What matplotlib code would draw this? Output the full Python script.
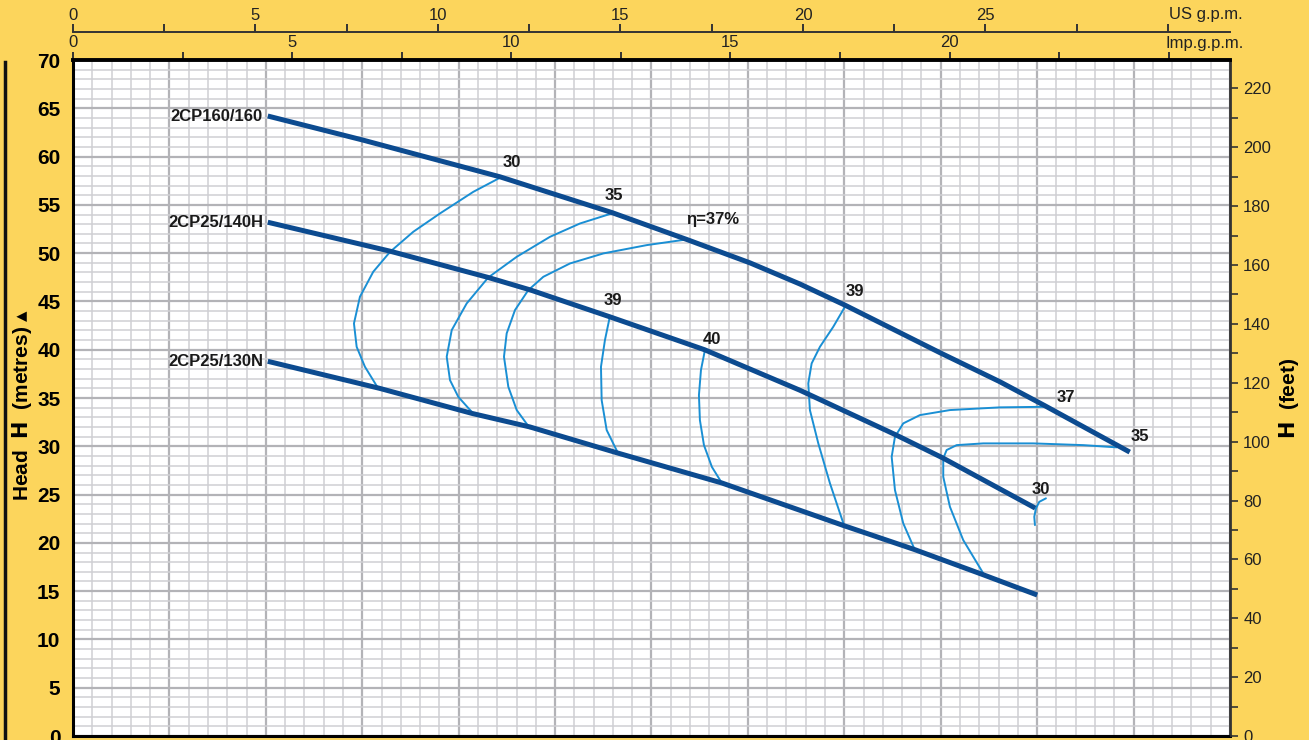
import matplotlib
matplotlib.use("Agg")
import matplotlib.pyplot as plt
from matplotlib.lines import Line2D
from matplotlib.ticker import MultipleLocator, FixedLocator, FixedFormatter

plt.rcParams['font.family'] = ['Liberation Sans', 'DejaVu Sans']

# flow in l/min, head in metres
q_160 = [20.2, 30.1, 44.3, 55.9, 63.7, 70.2, 75.4, 80.1, 89.9, 96.1, 100.8, 109.6]
h_160 = [64.2, 61.7, 57.9, 54.2, 51.4, 49.0, 46.8, 44.6, 39.7, 36.7, 34.2, 29.4]
q_140 = [20.2, 32.9, 43.0, 47.4, 55.7, 65.5, 75.4, 85.3, 90.2, 99.8]
h_140 = [53.2, 50.2, 47.5, 46.2, 43.4, 40.0, 35.8, 31.2, 28.8, 23.6]
q_130 = [20.2, 31.8, 41.4, 47.4, 56.5, 67.3, 79.9, 87.3, 94.4, 100.0]
h_130 = [38.8, 36.0, 33.4, 32.0, 29.3, 26.2, 21.8, 19.3, 16.7, 14.6]
pump_names = ['2CP160/160', '2CP25/140H', '2CP25/130N']

# iso-efficiency curves
eff_curves = [
    ([44.46, 41.52, 38.06, 35.29, 32.88, 31.14, 29.76, 29.14, 29.42, 30.28, 31.66],
     [57.90, 56.35, 54.11, 52.21, 50.13, 48.07, 45.48, 42.72, 40.30, 38.23, 35.99]),
    ([55.87, 52.58, 49.47, 46.02, 43.07, 40.83, 39.28, 38.76, 39.10, 39.96, 41.35],
     [54.11, 53.07, 51.69, 49.62, 47.48, 44.79, 42.03, 39.27, 36.85, 35.12, 33.57]),
    ([63.65, 59.50, 55.00, 51.54, 48.78, 47.22, 45.84, 44.98, 44.70, 45.15, 46.02, 47.40],
     [51.42, 50.83, 49.97, 48.93, 47.55, 46.17, 44.10, 41.69, 39.27, 36.16, 33.75, 31.85]),
    ([55.69, 55.17, 54.76, 54.83, 55.35, 56.52],
     [43.48, 40.99, 38.23, 34.78, 31.68, 29.30]),
    ([65.54, 65.13, 64.92, 65.02, 65.44, 66.27, 67.30],
     [39.96, 37.89, 35.30, 32.71, 30.12, 27.85, 26.19]),
    ([80.06, 78.85, 77.47, 76.61, 76.26, 76.43, 77.30, 78.51, 79.96],
     [44.44, 42.37, 40.30, 38.58, 36.51, 33.75, 30.30, 26.16, 21.84]),
    ([100.81, 96.14, 90.95, 87.84, 86.11, 85.25, 84.91, 85.25, 86.11, 87.32],
     [34.09, 34.03, 33.75, 33.23, 32.37, 30.98, 28.91, 25.47, 22.02, 19.25]),
    ([108.24, 104.78, 99.59, 94.41, 91.65, 90.61, 90.26, 90.26, 90.95, 92.33, 94.41],
     [29.89, 30.12, 30.30, 30.30, 30.12, 29.61, 28.75, 26.84, 23.74, 20.29, 16.84]),
    ([100.91, 100.22, 99.87, 99.70, 99.77],
     [24.61, 24.25, 23.57, 22.70, 21.84]),
]
eff_labels = ['30', '35', '\u03b7=37%', '39', '40', '39', '37', '35', '30']
eff_label_q = [45.5, 56.1, 66.3, 56.0, 66.3, 81.1, 103.0, 110.7, 100.4]
eff_label_h = [59.4, 56.0, 53.5, 45.1, 41.1, 46.0, 35.0, 31.0, 25.5]

yellow = '#FCD55C'
dark_blue = '#0C4B90'
light_blue = '#1A8FD4'
ink = '#222222'

fig = plt.figure(figsize=(13.09, 7.40), dpi=100, facecolor=yellow)
ax = fig.add_axes([73 / 1309, 4 / 740, 1157 / 1309, 676 / 740])
ax.set_facecolor('white')
ax.set_xlim(0, 120)
ax.set_ylim(0, 70)

ax.xaxis.set_major_locator(MultipleLocator(10))
ax.xaxis.set_minor_locator(MultipleLocator(2))
ax.yaxis.set_major_locator(MultipleLocator(5))
ax.yaxis.set_minor_locator(MultipleLocator(1))
ax.grid(which='major', color='#b3b3b7', lw=1.6)
ax.grid(which='minor', color='#cfcfd3', lw=1.1)
ax.set_axisbelow(True)
ax.tick_params(axis='x', which='both', length=0, labelbottom=False)
ax.tick_params(axis='y', which='both', length=0, pad=9, labelsize=15)
for lbl in ax.get_yticklabels():
    lbl.set_fontweight('bold')
for s in ['left', 'bottom']:
    ax.spines[s].set_linewidth(2.2)
ax.spines['top'].set_linewidth(2.8)
ax.spines['right'].set_linewidth(2)
ax.spines['right'].set_color('#333333')

# curves
for q, h in eff_curves:
    ax.plot(q, h, color=light_blue, lw=1.4, solid_capstyle='round', solid_joinstyle='round')
for q, h, name in zip([q_160, q_140, q_130], [h_160, h_140, h_130], pump_names):
    ax.plot(q, h, color=dark_blue, lw=3.6, solid_capstyle='butt', solid_joinstyle='round')
    ax.text(q[0] - 0.5, h[0], name, ha='right', va='center',
            fontsize=12, fontweight='bold', color='#1a1a1a')

for t, q, h in zip(eff_labels, eff_label_q, eff_label_h):
    ax.text(q, h, t, ha='center', va='center', fontsize=12,
            fontweight='bold', color='#1a1a1a')

# right axis in feet
axr = ax.twinx()
axr.set_ylim(0, 70 * 3.2808)
axr.yaxis.set_major_locator(MultipleLocator(20))
axr.yaxis.set_minor_locator(MultipleLocator(10))
axr.tick_params(axis='y', which='both', length=5.5, width=1.2, pad=4,
                labelsize=12, color='#333333', labelcolor=ink)
axr.set_ylabel(r'$\mathbf{H}$  (feet)', fontsize=15, fontweight='bold',
               rotation=90, labelpad=4)
for s in axr.spines.values():
    s.set_visible(False)

# top axes: Imp g.p.m. and US g.p.m.
imp = ax.secondary_xaxis('top', functions=(lambda x: x / 4.54609, lambda x: x * 4.54609))
imp.xaxis.set_major_locator(FixedLocator([0, 5, 10, 15, 20, 25]))
imp.xaxis.set_major_formatter(FixedFormatter(['0', '5', '10', '15', '20', '']))
imp.xaxis.set_minor_locator(MultipleLocator(2.5))
imp.tick_params(which='both', direction='out', length=6, width=1.4, pad=1,
                labelsize=12, color='#333333', labelcolor=ink)
imp.spines['top'].set_visible(False)

us = ax.secondary_xaxis(1.0414, functions=(lambda x: x / 3.78541, lambda x: x * 3.78541))
us.xaxis.set_major_locator(FixedLocator([0, 5, 10, 15, 20, 25, 30]))
us.xaxis.set_major_formatter(FixedFormatter(['0', '5', '10', '15', '20', '25', '']))
us.xaxis.set_minor_locator(MultipleLocator(2.5))
us.tick_params(which='both', direction='out', length=6, width=1.4, pad=0.5,
               labelsize=12, color='#333333', labelcolor=ink)
us.spines['top'].set_linewidth(1.4)
us.spines['top'].set_color('#333333')

ax.text(25 * 4.54609 - 0.3, 1.025, 'Imp.g.p.m.', transform=ax.get_xaxis_transform(),
        ha='left', va='center', fontsize=12, color=ink)
ax.text(30 * 3.78541 + 0.1, 1.0666, 'US g.p.m.', transform=ax.get_xaxis_transform(),
        ha='left', va='center', fontsize=12, color=ink)

# left label and border line
fig.text(22 / 1309, 1 - 405 / 740, r'Head  $\mathbf{H}$  (metres) $\blacktriangle$',
         rotation=90, ha='center', va='center', fontsize=15, fontweight='bold')
fig.add_artist(Line2D([5 / 1309, 5 / 1309], [0, 1 - 62 / 740], color='#111111', lw=2.5))

fig.savefig('out.png', dpi=100, facecolor=yellow)
